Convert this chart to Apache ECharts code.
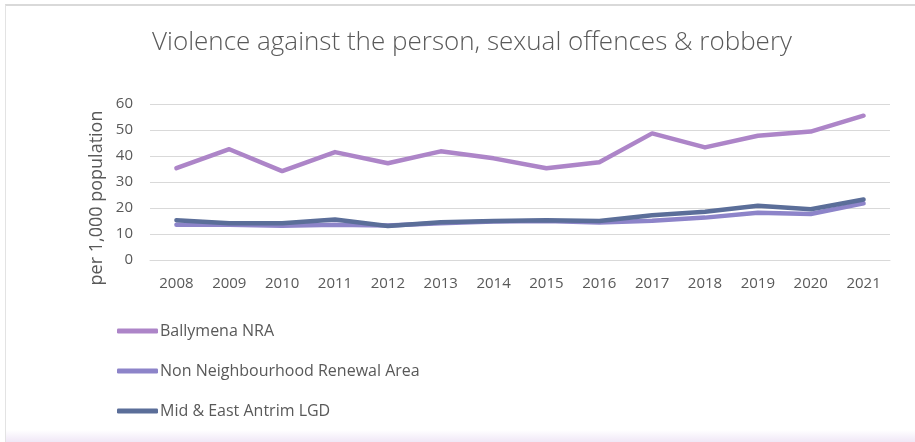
<!DOCTYPE html>
<html>
<head>
<meta charset="utf-8">
<script src="https://cdn.jsdelivr.net/npm/echarts@6/dist/echarts.min.js"></script>
<style>
  html, body { margin: 0; padding: 0; background: #ffffff; }
  #frame { position: absolute; left: 5px; top: 4px; width: 910px; height: 438px;
           border-top: 2px solid #d9d9d9; border-left: 1px solid #e3e3e3; box-sizing: border-box;
           background: linear-gradient(to bottom, #ffffff 0px, #ffffff 424px, #ede3f5 438px); }
  #chart { position: absolute; left: 0; top: 0; width: 915px; height: 442px; }
</style>
</head>
<body>
<div id="frame"></div>
<div id="chart"></div>
<script>
// Recorded crime rate per 1,000 population, 2008-2021
const years = ['2008','2009','2010','2011','2012','2013','2014','2015','2016','2017','2018','2019','2020','2021'];
const ballymenaNRA = [35.3, 42.6, 34.2, 41.5, 37.2, 41.8, 39.1, 35.3, 37.6, 48.7, 43.3, 47.8, 49.4, 55.5];
const nonNRA       = [13.6, 13.6, 13.2, 13.6, 13.3, 14.1, 14.8, 15.0, 14.4, 15.1, 16.3, 18.2, 17.7, 21.8];
const midEastAntrim = [15.3, 14.1, 14.1, 15.6, 13.1, 14.5, 15.0, 15.3, 15.0, 17.2, 18.6, 20.9, 19.5, 23.3];
const yTicks = { min: 0, max: 60, interval: 10 };

const FONT = 'Open Sans';
const TXT = '#595959';

const chart = echarts.init(document.getElementById('chart'), null, { renderer: 'canvas' });

function lineSeries(name, data, color) {
  return {
    name, type: 'line', data,
    symbol: 'none',
    lineStyle: { color, width: 4.5, cap: 'round', join: 'round' },
    itemStyle: { color },
    emphasis: { disabled: true }
  };
}

chart.setOption({
  animation: false,
  backgroundColor: 'transparent',
  title: {
    text: 'Violence against the person, sexual offences & robbery',
    left: 467, top: 25, textAlign: 'center',
    textStyle: { fontFamily: FONT, fontSize: 26, fontWeight: 300, color: TXT }
  },
  grid: { left: 150, right: 25, top: 104, bottom: 182 },
  xAxis: {
    type: 'category', data: years, boundaryGap: true,
    axisLine: { lineStyle: { color: '#d9d9d9', width: 1 } },
    axisTick: { show: false },
    axisLabel: { fontFamily: FONT, fontSize: 15, color: TXT, margin: 16 }
  },
  yAxis: {
    type: 'value', min: yTicks.min, max: yTicks.max, interval: yTicks.interval,
    axisLine: { show: false }, axisTick: { show: false },
    splitLine: { lineStyle: { color: '#d9d9d9', width: 1 } },
    axisLabel: { fontFamily: FONT, fontSize: 15, color: TXT, margin: 17 }
  },
  legend: {
    orient: 'vertical', left: 112, top: 318,
    itemGap: 24, itemWidth: 41, itemHeight: 5,
    icon: 'roundRect',
    textStyle: { fontFamily: FONT, fontSize: 16, lineHeight: 16, color: TXT, padding: [0, 0, 0, -3] },
    data: ['Ballymena NRA', 'Non Neighbourhood Renewal Area', 'Mid & East Antrim LGD']
  },
  graphic: [{
    type: 'text', x: 97, y: 198, rotation: Math.PI / 2,
    style: { text: 'per 1,000 population', font: '18px "Open Sans"', fill: TXT,
             align: 'center', verticalAlign: 'middle' }
  }],
  series: [
    lineSeries('Ballymena NRA', ballymenaNRA, '#ad85c8'),
    lineSeries('Non Neighbourhood Renewal Area', nonNRA, '#8d84c9'),
    lineSeries('Mid & East Antrim LGD', midEastAntrim, '#5b6e99')
  ]
});
</script>
</body>
</html>
